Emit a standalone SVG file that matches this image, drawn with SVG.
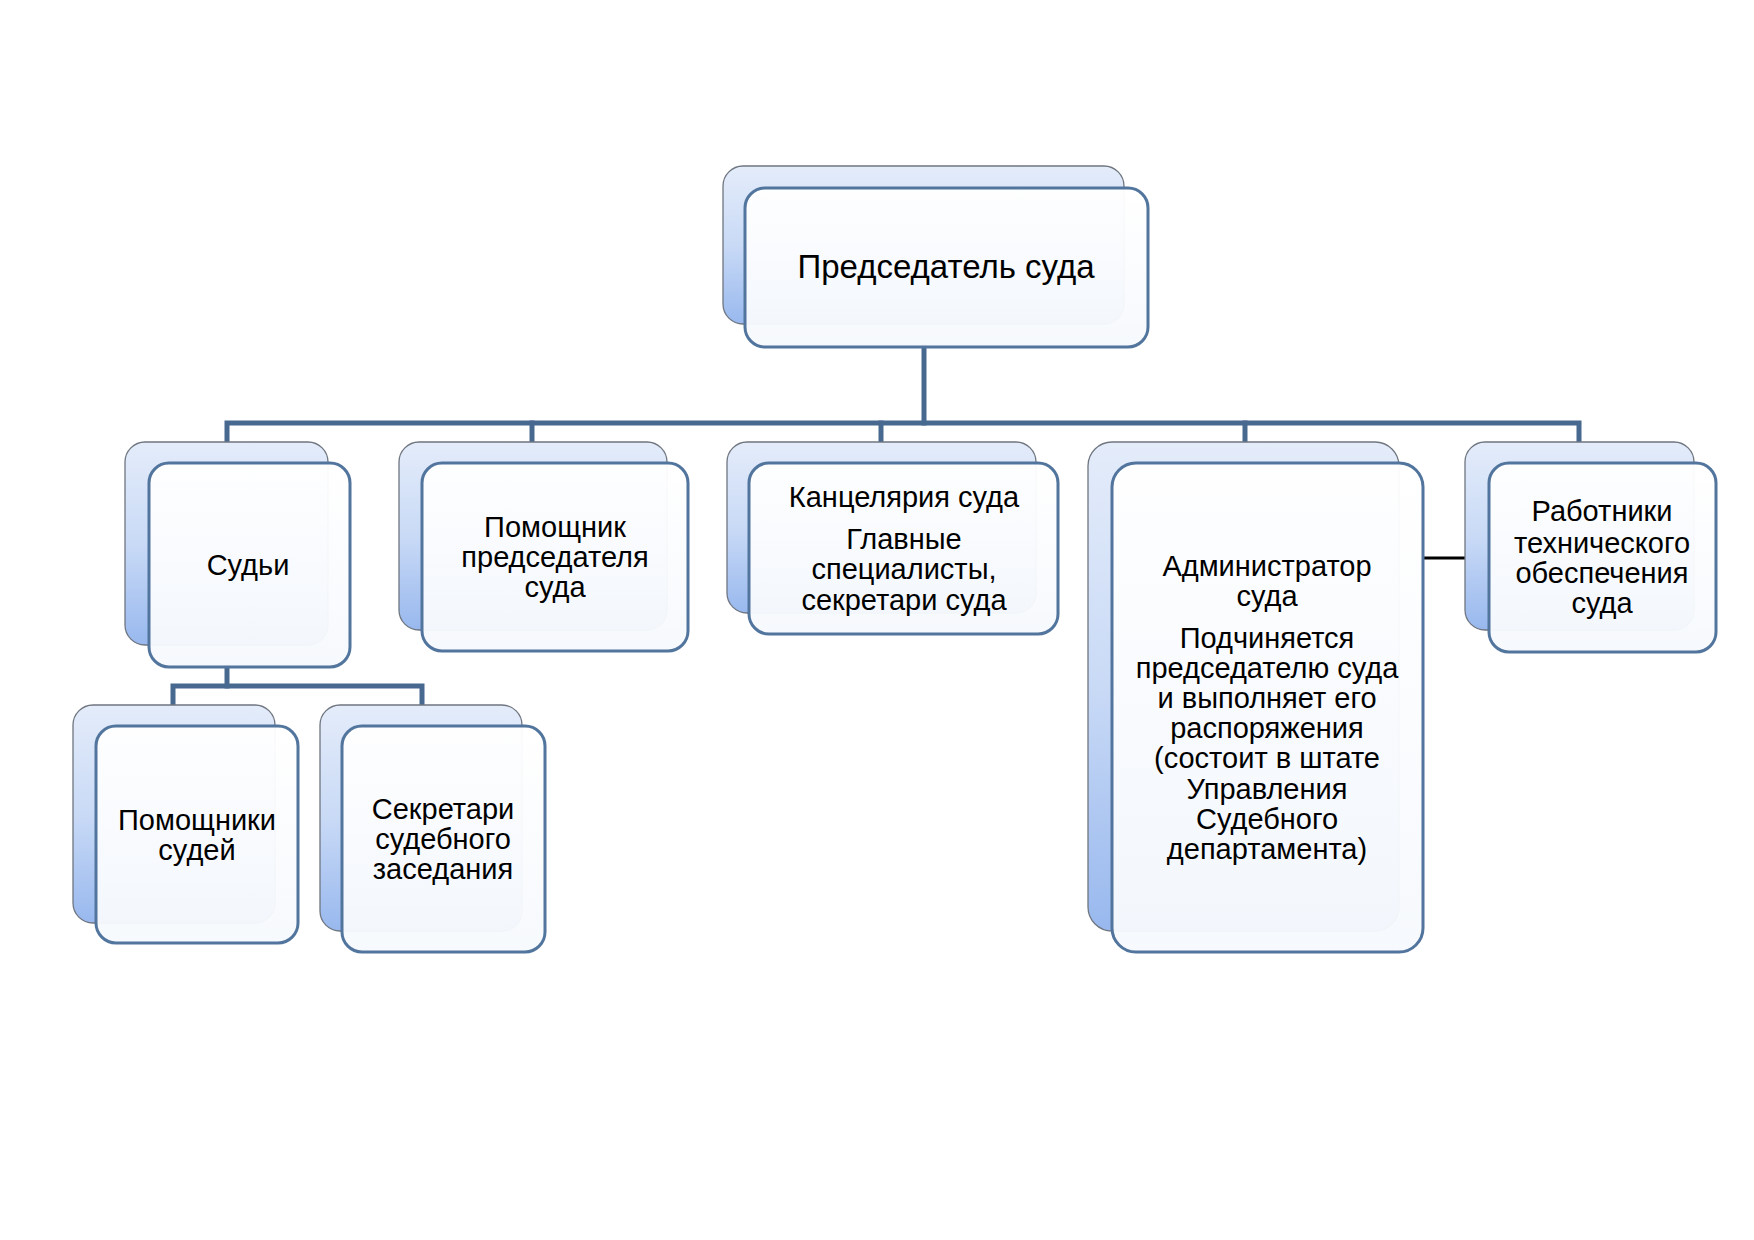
<svg xmlns="http://www.w3.org/2000/svg" width="1754" height="1240" viewBox="0 0 1754 1240">
<defs>
<linearGradient id="backGrad" x1="0" y1="0" x2="0" y2="1">
<stop offset="0" stop-color="#e4ecfa"/>
<stop offset="0.5" stop-color="#c9daf6"/>
<stop offset="1" stop-color="#98b8ee"/>
</linearGradient>
<linearGradient id="frontGrad" x1="0" y1="0" x2="0" y2="1">
<stop offset="0" stop-color="#ffffff" stop-opacity="0.96"/>
<stop offset="1" stop-color="#f6f9fd" stop-opacity="0.96"/>
</linearGradient>
</defs>
<style>
.back{fill:url(#backGrad);stroke:#6f7680;stroke-width:1.3}
.front{fill:url(#frontGrad);stroke:#52759e;stroke-width:3}
.conn{stroke:#48698f;stroke-width:5;fill:none;stroke-linecap:square}
.conn2{stroke:#000;stroke-width:3;fill:none}
text{font-family:"Liberation Sans",Arial,sans-serif;font-size:29px;fill:#000;text-anchor:middle}
.big{font-size:33px}
</style>
<rect width="1754" height="1240" fill="#ffffff"/>

<g id="connectors">
<path class="conn" d="M924 347 V423"/>
<path class="conn" d="M227 442 V423 H1579 V442"/>
<path class="conn" d="M532 423 V442"/>
<path class="conn" d="M881 423 V442"/>
<path class="conn" d="M1245 423 V442"/>
<path class="conn" d="M227 667 V686"/>
<path class="conn" d="M173 705 V686 H422 V705"/>
<path class="conn2" d="M1423 558 H1465"/>
</g>

<g id="chair">
<rect class="back" x="723" y="166" width="401" height="158" rx="20"/>
<rect class="front" x="745" y="188" width="403" height="159" rx="20"/>
<text class="big" x="946" y="278">Председатель суда</text>
</g>

<g id="judges">
<rect class="back" x="125" y="442" width="203" height="203" rx="20"/>
<rect class="front" x="149" y="463" width="201" height="204" rx="20"/>
<text x="248" y="575">Судьи</text>
</g>

<g id="assistant-chair">
<rect class="back" x="399" y="442" width="268" height="188" rx="20"/>
<rect class="front" x="422" y="463" width="266" height="188" rx="20"/>
<text x="555" y="537">Помощник</text>
<text x="555" y="567">председателя</text>
<text x="555" y="597">суда</text>
</g>

<g id="chancellery">
<rect class="back" x="727" y="442" width="309" height="171" rx="20"/>
<rect class="front" x="749" y="463" width="309" height="171" rx="20"/>
<text x="904" y="507">Канцелярия суда</text>
<text x="904" y="549">Главные</text>
<text x="904" y="579">специалисты,</text>
<text x="904" y="610">секретари суда</text>
</g>

<g id="administrator">
<rect class="back" x="1088" y="442" width="311" height="489" rx="24"/>
<rect class="front" x="1112" y="463" width="311" height="489" rx="24"/>
<text x="1267" y="576">Администратор</text>
<text x="1267" y="606">суда</text>
<text x="1267" y="648">Подчиняется</text>
<text x="1267" y="678">председателю суда</text>
<text x="1267" y="708">и выполняет его</text>
<text x="1267" y="738">распоряжения</text>
<text x="1267" y="768">(состоит в штате</text>
<text x="1267" y="799">Управления</text>
<text x="1267" y="829">Судебного</text>
<text x="1267" y="859">департамента)</text>
</g>

<g id="technical">
<rect class="back" x="1465" y="442" width="229" height="188" rx="20"/>
<rect class="front" x="1489" y="463" width="227" height="189" rx="20"/>
<text x="1602" y="521">Работники</text>
<text x="1602" y="553">технического</text>
<text x="1602" y="583">обеспечения</text>
<text x="1602" y="613">суда</text>
</g>

<g id="judge-assistants">
<rect class="back" x="73" y="705" width="202" height="218" rx="20"/>
<rect class="front" x="96" y="726" width="202" height="217" rx="20"/>
<text x="197" y="830">Помощники</text>
<text x="197" y="860">судей</text>
</g>

<g id="session-secretaries">
<rect class="back" x="320" y="705" width="202" height="226" rx="20"/>
<rect class="front" x="342" y="726" width="203" height="226" rx="20"/>
<text x="443" y="819">Секретари</text>
<text x="443" y="849">судебного</text>
<text x="443" y="879">заседания</text>
</g>
</svg>
